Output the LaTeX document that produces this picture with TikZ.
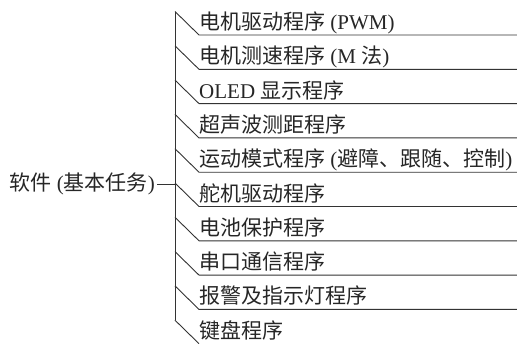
\documentclass[tikz,border=0pt]{standalone}
\usepackage{fontspec}
\setmainfont{Liberation Serif}
\newfontfamily\cjk{Noto Sans CJK SC}
\begin{document}
\begin{tikzpicture}[x=1pt,y=-1pt,
  ln/.style={line width=0.9pt, draw=black!80},
  lbl/.style={inner sep=0pt, font=\fontsize{21}{24}\selectfont, text=black!85}]
\useasboundingbox (0,0) rectangle (517,343);
\foreach \i/\t in {
  1/{{\cjk 电机驱动程序} (PWM)},
  2/{{\cjk 电机测速程序} (M {\cjk 法})},
  3/{OLED {\cjk 显示程序}},
  4/{{\cjk 超声波测距程序}},
  5/{{\cjk 运动模式程序} ({\cjk 避障、跟随、控制})},
  6/{{\cjk 舵机驱动程序}},
  7/{{\cjk 电池保护程序}},
  8/{{\cjk 串口通信程序}},
  9/{{\cjk 报警及指示灯程序}},
  10/{{\cjk 键盘程序}}}{
  \pgfmathsetmacro{\yy}{35+34.3*(\i-1)}
  \coordinate (s\i) at (175,\yy-23.5);
  \coordinate (u\i) at (199,\yy);
  \coordinate (e\i) at (517,\yy);
  \node[lbl, anchor=base west] (t\i) at (199,\yy-5.5) {\t};
}
\foreach \i in {1,...,9}{\draw[ln] (s\i) -- (u\i) -- (e\i);}
\draw[ln] (s10) -- (u10);
\draw[ln] (s1) -- (s10);
\node[lbl, anchor=base east] (root) at (155,190) {{\cjk 软件} ({\cjk 基本任务})};
\coordinate (j) at (175,184);
\draw[ln] ([xshift=2pt]root.east |- j) -- (j);
\end{tikzpicture}
\end{document}
